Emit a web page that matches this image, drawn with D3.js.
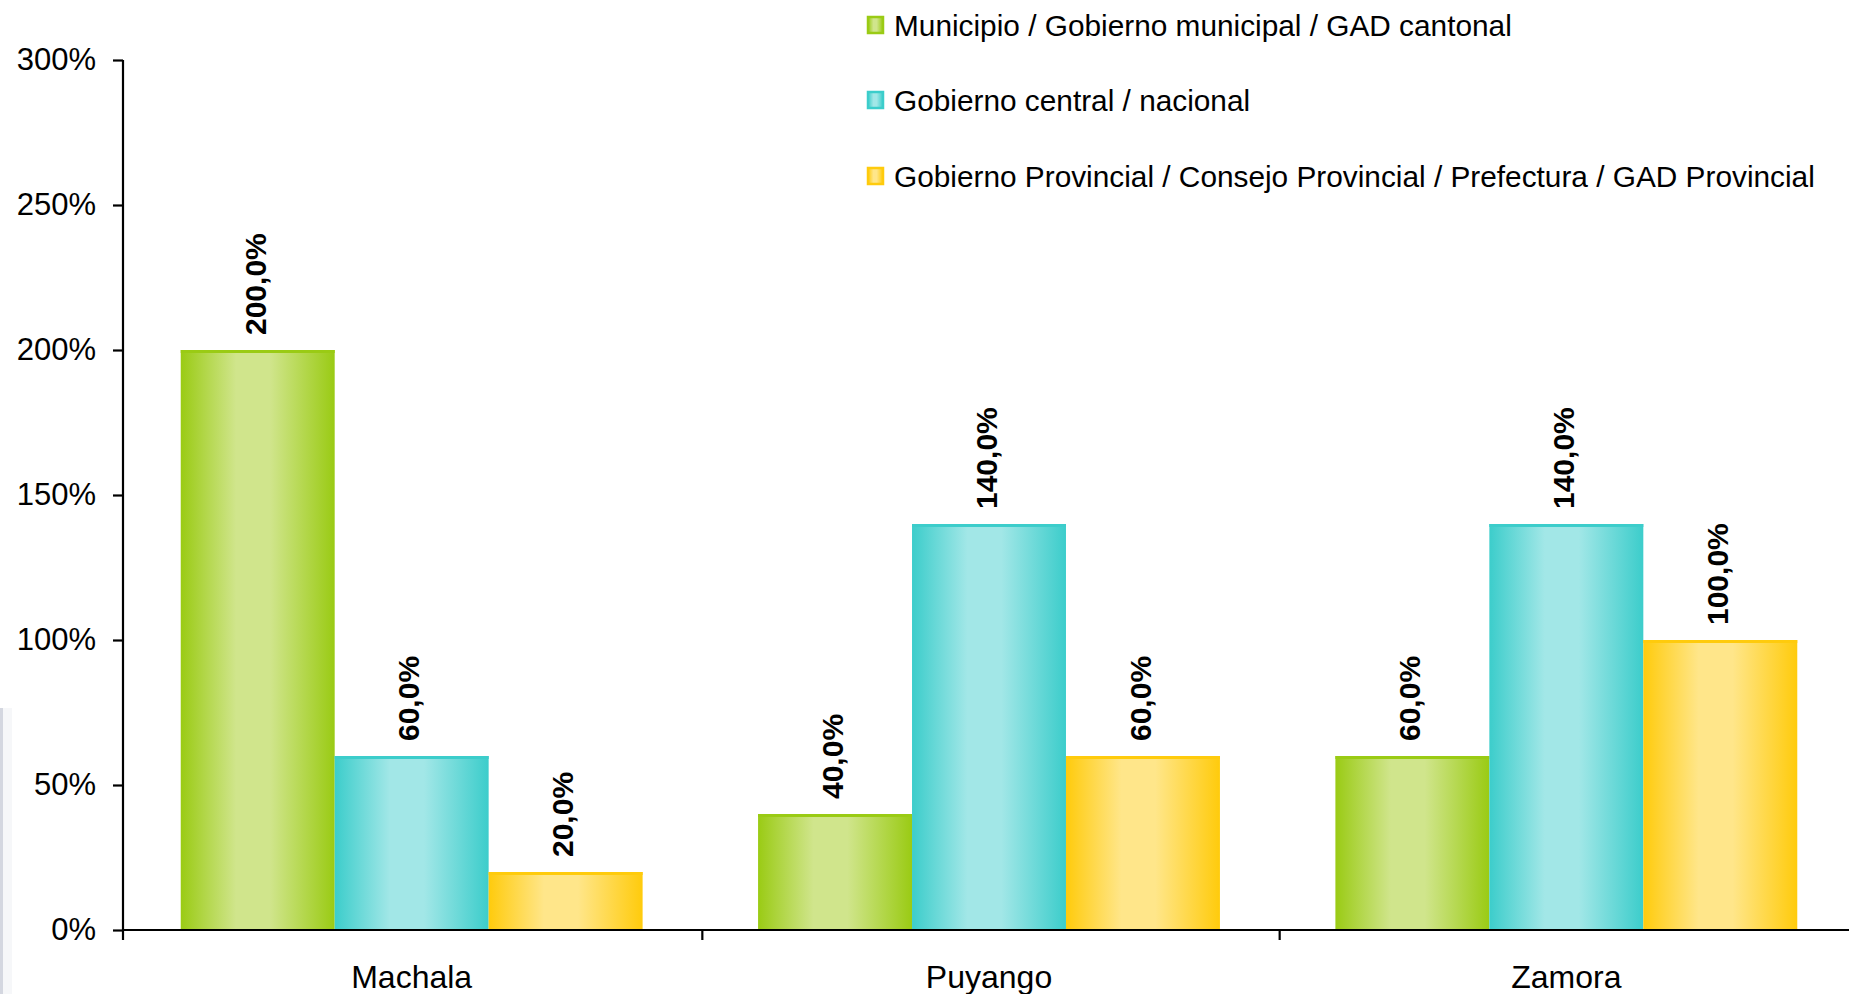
<!DOCTYPE html>
<html>
<head>
<meta charset="utf-8">
<script src="https://cdn.jsdelivr.net/npm/d3@7"></script>
<style>
  html, body { margin: 0; padding: 0; background: #ffffff; }
  svg { display: block; font-family: "Liberation Sans", Arial, Helvetica, sans-serif; }
</style>
</head>
<body>
<svg id="chart" width="1849" height="994"></svg>
<script>
// ---- Data ----
const categories = ["Machala", "Puyango", "Zamora"];
const seriesNames = [
  "Municipio / Gobierno municipal / GAD cantonal",
  "Gobierno central / nacional",
  "Gobierno Provincial / Consejo Provincial / Prefectura / GAD Provincial"
];
const municipioValues = [200, 40, 60];
const centralValues = [60, 140, 140];
const provincialValues = [20, 60, 100];
const yTickValues = [0, 50, 100, 150, 200, 250, 300];

const seriesValues = [municipioValues, centralValues, provincialValues];
const seriesDark = ["#9acb14", "#3ccdcb", "#ffcb0c"];
const seriesLight = ["#d0e58c", "#a2e7e7", "#ffe68a"];

// ---- Layout ----
const svg = d3.select("#chart");
const W = 1849, H = 994;
const plotLeft = 123, plotTop = 60, plotBottom = 930, plotRight = 1855;

const y = d3.scaleLinear().domain([0, 300]).range([plotBottom, plotTop]);
const x = d3.scaleBand().domain(categories).range([plotLeft, plotRight])
  .paddingInner(0.2).paddingOuter(0.1);
const xs = d3.scaleBand().domain(d3.range(seriesNames.length))
  .range([0, x.bandwidth()]).padding(0);

// ---- Gradients ----
const defs = svg.append("defs");
seriesNames.forEach((s, i) => {
  const g = defs.append("linearGradient").attr("id", "grad" + i)
    .attr("x1", "0%").attr("x2", "100%").attr("y1", "0%").attr("y2", "0%");
  g.append("stop").attr("offset", "0%").attr("stop-color", seriesDark[i]);
  g.append("stop").attr("offset", "36%").attr("stop-color", seriesLight[i]);
  g.append("stop").attr("offset", "58%").attr("stop-color", seriesLight[i]);
  g.append("stop").attr("offset", "100%").attr("stop-color", seriesDark[i]);
});

// faint left edge artifact
svg.append("rect").attr("x", 0).attr("y", 708).attr("width", 3).attr("height", H - 708)
  .attr("fill", "#c9cdd8").attr("opacity", 0.8);
svg.append("rect").attr("x", 3).attr("y", 708).attr("width", 9).attr("height", H - 708)
  .attr("fill", "#f4f5f8").attr("opacity", 0.8);

// ---- Bars ----
const rows = [];
categories.forEach((c, ci) => {
  seriesNames.forEach((s, si) => {
    rows.push({ cat: c, si: si, v: seriesValues[si][ci] });
  });
});

const barG = svg.append("g");
const bars = barG.selectAll("g.bar").data(rows).join("g").attr("class", "bar")
  .attr("transform", d => `translate(${x(d.cat) + xs(d.si)},0)`);

bars.append("rect")
  .attr("x", 0)
  .attr("y", d => y(d.v))
  .attr("width", xs.bandwidth())
  .attr("height", d => y(0) - y(d.v))
  .attr("fill", d => `url(#grad${d.si})`);

bars.append("rect")
  .attr("x", 0)
  .attr("y", d => y(d.v))
  .attr("width", xs.bandwidth())
  .attr("height", 3)
  .attr("fill", d => seriesDark[d.si]);

// ---- Data labels ----
const fmt = v => v.toFixed(1).replace(".", ",") + "%";
bars.append("text")
  .attr("transform", d => `translate(${xs.bandwidth() / 2 - 3},${y(d.v) - 15}) rotate(-90)`)
  .attr("dy", "0.36em")
  .attr("text-anchor", "start")
  .attr("font-size", 30)
  .attr("font-weight", "bold")
  .attr("fill", "#000")
  .text(d => fmt(d.v));

// ---- Y axis ----
const yAxis = d3.axisLeft(y).tickValues(yTickValues)
  .tickFormat(d => d + "%").tickSize(10).tickPadding(17);
const yg = svg.append("g").attr("transform", `translate(${plotLeft},0)`).call(yAxis);
yg.select(".domain").attr("stroke", "#000").attr("stroke-width", 2.2)
  .attr("d", `M0,${plotTop}V${plotBottom + 10}`);
yg.selectAll(".tick line").attr("stroke", "#000").attr("stroke-width", 2.2);
yg.selectAll(".tick text").attr("font-size", 31).attr("fill", "#000")
  .attr("font-family", "\"Liberation Sans\", Arial, sans-serif");

// ---- X axis ----
const xAxis = d3.axisBottom(x).tickSize(0).tickPadding(35);
const xg = svg.append("g").attr("transform", `translate(0,${plotBottom})`).call(xAxis);
xg.select(".domain").attr("stroke", "#000").attr("stroke-width", 2.2)
  .attr("d", `M${plotLeft},0H${plotRight}`);
xg.selectAll(".tick text").attr("font-size", 32).attr("fill", "#000")
  .attr("font-family", "\"Liberation Sans\", Arial, sans-serif");
// boundary ticks between categories
const gap = (x.step() - x.bandwidth()) / 2;
const boundaries = categories.slice(1).map(c => x(c) - gap + 2);
xg.selectAll("line.bound").data(boundaries).join("line").attr("class", "bound")
  .attr("x1", d => d).attr("x2", d => d).attr("y1", 0).attr("y2", 10)
  .attr("stroke", "#000").attr("stroke-width", 2.2);

// ---- Legend ----
const legendY = [25, 100, 176];
const lg = svg.append("g");
const items = lg.selectAll("g").data(seriesNames).join("g")
  .attr("transform", (d, i) => `translate(867,${legendY[i]})`);
items.append("rect").attr("x", 1).attr("y", -8).attr("width", 15).attr("height", 16)
  .attr("fill", (d, i) => `url(#grad${i})`)
  .attr("stroke", (d, i) => seriesDark[i]).attr("stroke-width", 2.5);
items.append("text").attr("x", 27).attr("dy", "0.36em")
  .attr("font-size", 29.8).attr("fill", "#000")
  .text(d => d);
</script>
</body>
</html>
